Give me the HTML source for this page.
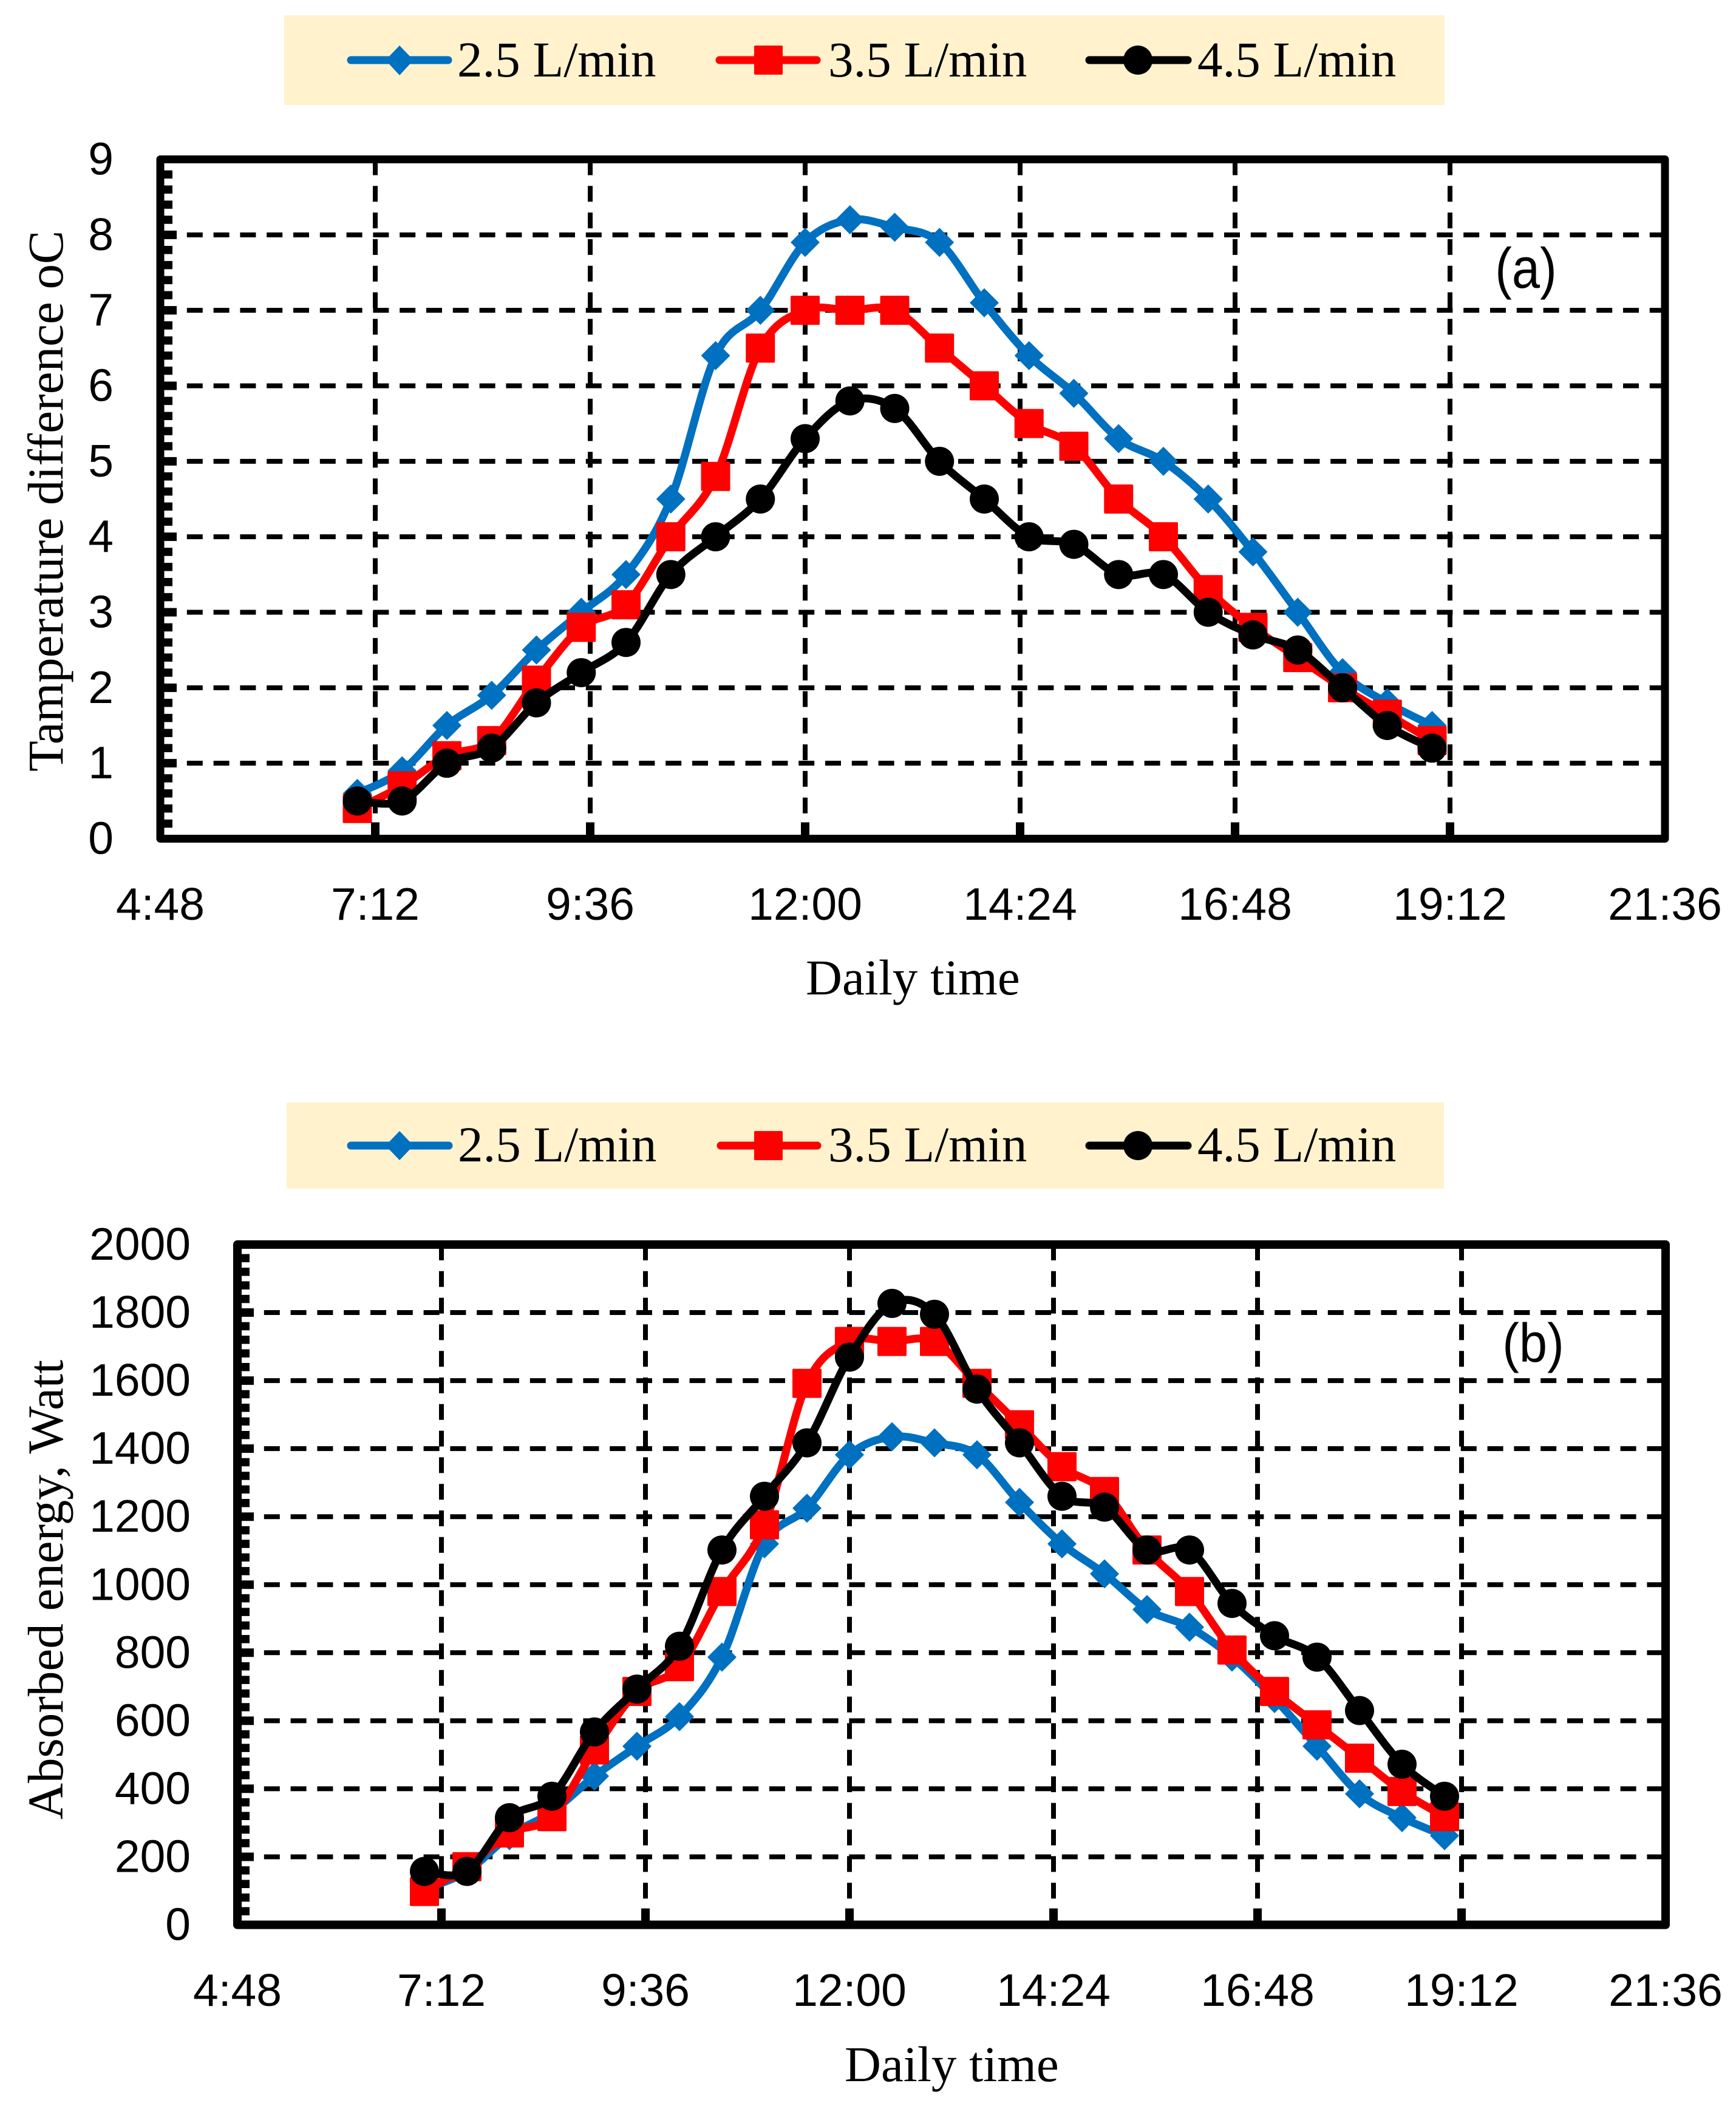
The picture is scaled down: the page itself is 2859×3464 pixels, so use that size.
<!DOCTYPE html>
<html lang="en">
<head>
<meta charset="utf-8">
<title>Temperature difference and absorbed energy vs daily time</title>
<style>
html,body{margin:0;padding:0;background:#fff}
svg{display:block}
.serif{font-family:"Liberation Serif",serif;font-size:83px;fill:#000}
.sans{font-family:"Liberation Sans",sans-serif;font-size:75px;fill:#000}
.panel{font-family:"Liberation Sans",sans-serif;font-size:83px;fill:#000}
</style>
</head>
<body>
<svg id="figure" xmlns="http://www.w3.org/2000/svg" width="2859" height="3464" viewBox="0 0 2859 3464">
  <rect x="0" y="0" width="2859" height="3464" fill="#fff"/>

  <g id="chart-a"></g>
  <g id="chart-b"></g>

  <g>
    <rect x="468" y="25" width="1911" height="148" rx="2" fill="#FFF2CC"/>
    <g>
      <line x1="578" y1="99" x2="738" y2="99" stroke="#0070C0" stroke-width="13" stroke-linecap="round"/>
      <polygon points="658,75 681,99 658,124 635,99" fill="#0070C0"/>
      <text class="serif" x="753" y="126">2.5 L/min</text>
    </g>
    <g>
      <line x1="1185" y1="99" x2="1345" y2="99" stroke="#FF0000" stroke-width="13" stroke-linecap="round"/>
      <rect x="1242" y="75" width="47" height="48" rx="2" fill="#FF0000"/>
      <text class="serif" x="1364" y="126">3.5 L/min</text>
    </g>
    <g>
      <line x1="1794" y1="99" x2="1956" y2="99" stroke="#000" stroke-width="13" stroke-linecap="round"/>
      <circle cx="1874" cy="99" r="24" fill="#000"/>
      <text class="serif" x="1972" y="126">4.5 L/min</text>
    </g>
  </g>

  <g>
    <rect x="472" y="1816" width="1906" height="142" fill="#FFF2CC"/>
    <g>
      <line x1="578" y1="1887" x2="739" y2="1887" stroke="#0070C0" stroke-width="13" stroke-linecap="round"/>
      <polygon points="658,1863 681,1887 658,1911 635,1887" fill="#0070C0"/>
      <text class="serif" x="754" y="1913">2.5 L/min</text>
    </g>
    <g>
      <line x1="1187" y1="1887" x2="1346" y2="1887" stroke="#FF0000" stroke-width="13" stroke-linecap="round"/>
      <rect x="1242" y="1863" width="47" height="48" rx="2" fill="#FF0000"/>
      <text class="serif" x="1364" y="1913">3.5 L/min</text>
    </g>
    <g>
      <line x1="1794" y1="1887" x2="1956" y2="1887" stroke="#000" stroke-width="13" stroke-linecap="round"/>
      <circle cx="1874" cy="1887" r="24" fill="#000"/>
      <text class="serif" x="1972" y="1913">4.5 L/min</text>
    </g>
  </g>

  <text class="serif" transform="translate(103,1271) rotate(-90)" x="0" y="0">Tamperature difference oC</text>
  <text class="serif" x="1327" y="1638">Daily time</text>
  <text class="panel" transform="translate(2513,474) scale(1,1.13)" x="0" y="0" text-anchor="middle">(a)</text>

  <text class="serif" transform="translate(103,2997) rotate(-90)" x="0" y="0">Absorbed energy, Watt</text>
  <text class="serif" x="1391" y="3428">Daily time</text>
  <text class="panel" transform="translate(2525,2243) scale(1,1.09)" x="0" y="0" text-anchor="middle">(b)</text>
</svg>

<script>
// Shared data
const sampleHours = [7,7.5,8,8.5,9,9.5,10,10.5,11,11.5,12,12.5,13,13.5,14,14.5,15,15.5,16,16.5,17,17.5,18,18.5,19];
const xTickLabels = ['4:48','7:12','9:36','12:00','14:24','16:48','19:12','21:36'];

// Panel (a): temperature difference
const yTicksA = [0,1,2,3,4,5,6,7,8,9];
const tempFlow25 = [0.6,0.9,1.5,1.9,2.5,3.0,3.5,4.5,6.4,7.0,7.9,8.2,8.1,7.9,7.1,6.4,5.9,5.3,5.0,4.5,3.8,3.0,2.2,1.8,1.5];
const tempFlow35 = [0.4,0.7,1.1,1.3,2.1,2.8,3.1,4.0,4.8,6.5,7.0,7.0,7.0,6.5,6.0,5.5,5.2,4.5,4.0,3.3,2.8,2.4,2.0,1.65,1.3];
const tempFlow45 = [0.5,0.5,1.0,1.2,1.8,2.2,2.6,3.5,4.0,4.5,5.3,5.8,5.7,5.0,4.5,4.0,3.9,3.5,3.5,3.0,2.7,2.5,2.0,1.5,1.2];

// Panel (b): absorbed energy
const yTicksB = [0,200,400,600,800,1000,1200,1400,1600,1800,2000];
const energyFlow25 = [105,157,262,332,437,525,612,787,1120,1225,1382,1435,1417,1382,1242,1120,1032,927,875,787,665,525,385,315,262];
const energyFlow35 = [98,171,270,318,514,686,759,980,1176,1592,1715,1715,1715,1592,1470,1347,1274,1102,980,808,686,588,490,392,318];
const energyFlow45 = [157,157,315,378,567,693,819,1102,1260,1417,1669,1827,1795,1575,1417,1260,1228,1102,1102,945,850,787,630,472,378];

const SVGNS = 'http://www.w3.org/2000/svg';

function make(tag, attrs, parent) {
  const el = document.createElementNS(SVGNS, tag);
  for (const k in attrs) el.setAttribute(k, attrs[k]);
  parent.appendChild(el);
  return el;
}

function hoursFromLabel(label) {
  const parts = label.split(':');
  return Number(parts[0]) + Number(parts[1]) / 60;
}

function smoothPath(pts) {
  let d = 'M' + pts[0][0] + ' ' + pts[0][1];
  for (let i = 0; i < pts.length - 1; i++) {
    const p0 = pts[Math.max(i - 1, 0)];
    const p1 = pts[i];
    const p2 = pts[i + 1];
    const p3 = pts[Math.min(i + 2, pts.length - 1)];
    const c1x = p1[0] + (p2[0] - p0[0]) / 6;
    const c1y = p1[1] + (p2[1] - p0[1]) / 6;
    const c2x = p2[0] - (p3[0] - p1[0]) / 6;
    const c2y = p2[1] - (p3[1] - p1[1]) / 6;
    d += 'C' + c1x + ' ' + c1y + ' ' + c2x + ' ' + c2y + ' ' + p2[0] + ' ' + p2[1];
  }
  return d;
}

function drawChart(root, box, yTicks, series, tickRight, xLabelBase, prefix) {
  const tMin = hoursFromLabel(xTickLabels[0]);
  const tMax = hoursFromLabel(xTickLabels[xTickLabels.length - 1]);
  const yMax = yTicks[yTicks.length - 1];
  const sx = function (h) { return box.left + (h - tMin) / (tMax - tMin) * (box.right - box.left); };
  const sy = function (v) { return box.bottom - v / yMax * (box.bottom - box.top); };
  const w = box.axisWidth;

  // Horizontal grid lines
  yTicks.forEach(function (v) {
    if (v === 0 || v === yMax) return;
    const gl = make('line', {x1: box.left, y1: sy(v), x2: box.right, y2: sy(v), stroke: '#000', 'stroke-width': 8, 'stroke-dasharray': '26 17.8'}, root);
    
    
  });

  // Vertical grid lines and major x ticks
  xTickLabels.forEach(function (lab, i) {
    const x = sx(hoursFromLabel(lab));
    if (i > 0 && i < xTickLabels.length - 1) {
      const gl = make('line', {x1: x, y1: box.top, x2: x, y2: box.bottom, stroke: '#000', 'stroke-width': 8, 'stroke-dasharray': '26 17.8'}, root);
      
      
      const tk = make('line', {x1: x, y1: box.bottom - 27, x2: x, y2: box.bottom, stroke: '#000', 'stroke-width': 14}, root);
      
      
    }
    const t = make('text', {x: x, y: xLabelBase, 'text-anchor': 'middle', class: 'sans'}, root);
    t.textContent = lab;
    
    
  });

  // Y ticks (5 minor intervals per major) and labels
  yTicks.forEach(function (v, i) {
    const y = sy(v);
    if (i > 0 && i < yTicks.length - 1) {
      const mj = make('line', {x1: box.left, y1: y, x2: box.left + box.majorTick, y2: y, stroke: '#000', 'stroke-width': 14}, root);
      
      
    }
    if (i < yTicks.length - 1) {
      const stepV = (yTicks[i + 1] - v) / 5;
      for (let m = 1; m < 5; m++) {
        const yy = sy(v + stepV * m);
        const mn = make('line', {x1: box.left, y1: yy, x2: box.left + box.minorTick, y2: yy, stroke: '#000', 'stroke-width': 13.5}, root);
        
        
      }
    }
    const t = make('text', {x: tickRight, y: y + 25, 'text-anchor': 'end', class: 'sans'}, root);
    t.textContent = String(v);
    
    
  });

  // Plot frame
  const frame = make('rect', {x: box.left, y: box.top, width: box.right - box.left, height: box.bottom - box.top, fill: 'none', stroke: '#000', 'stroke-width': w, 'stroke-linejoin': 'round'}, root);
  
  

  // Series
  series.forEach(function (s) {
    const g = make('g', {}, root);
    
    
    const pts = s.values.map(function (v, i) { return [sx(sampleHours[i]), sy(v)]; });
    const line = make('path', {d: smoothPath(pts), fill: 'none', stroke: s.color, 'stroke-width': 13, 'stroke-linejoin': 'round'}, g);
    
    
    pts.forEach(function (p) {
      let mk;
      if (s.marker === 'diamond') {
        mk = make('polygon', {points: p[0] + ',' + (p[1] - 24) + ' ' + (p[0] + 24) + ',' + p[1] + ' ' + p[0] + ',' + (p[1] + 24) + ' ' + (p[0] - 24) + ',' + p[1], fill: s.color}, g);
      } else if (s.marker === 'square') {
        mk = make('rect', {x: p[0] - 24, y: p[1] - 24, width: 48, height: 48, rx: 2, fill: s.color}, g);
      } else {
        mk = make('circle', {cx: p[0], cy: p[1], r: 24, fill: s.color}, g);
      }
      
      
    });
  });
}

drawChart(document.getElementById('chart-a'),
  {left: 264, right: 2742, top: 262.5, bottom: 1381.5, axisWidth: 13, minorTick: 20, majorTick: 27},
  yTicksA,
  [
    {name: '2-5-lpm', values: tempFlow25, color: '#0070C0', marker: 'diamond'},
    {name: '3-5-lpm', values: tempFlow35, color: '#FF0000', marker: 'square'},
    {name: '4-5-lpm', values: tempFlow45, color: '#000000', marker: 'circle'}
  ], 187, 1515, 'temperature');

drawChart(document.getElementById('chart-b'),
  {left: 391, right: 2743, top: 2050, bottom: 3170.5, axisWidth: 14, minorTick: 20, majorTick: 27},
  yTicksB,
  [
    {name: '2-5-lpm', values: energyFlow25, color: '#0070C0', marker: 'diamond'},
    {name: '3-5-lpm', values: energyFlow35, color: '#FF0000', marker: 'square'},
    {name: '4-5-lpm', values: energyFlow45, color: '#000000', marker: 'circle'}
  ], 314, 3304, 'energy');
</script>
</body>
</html>
